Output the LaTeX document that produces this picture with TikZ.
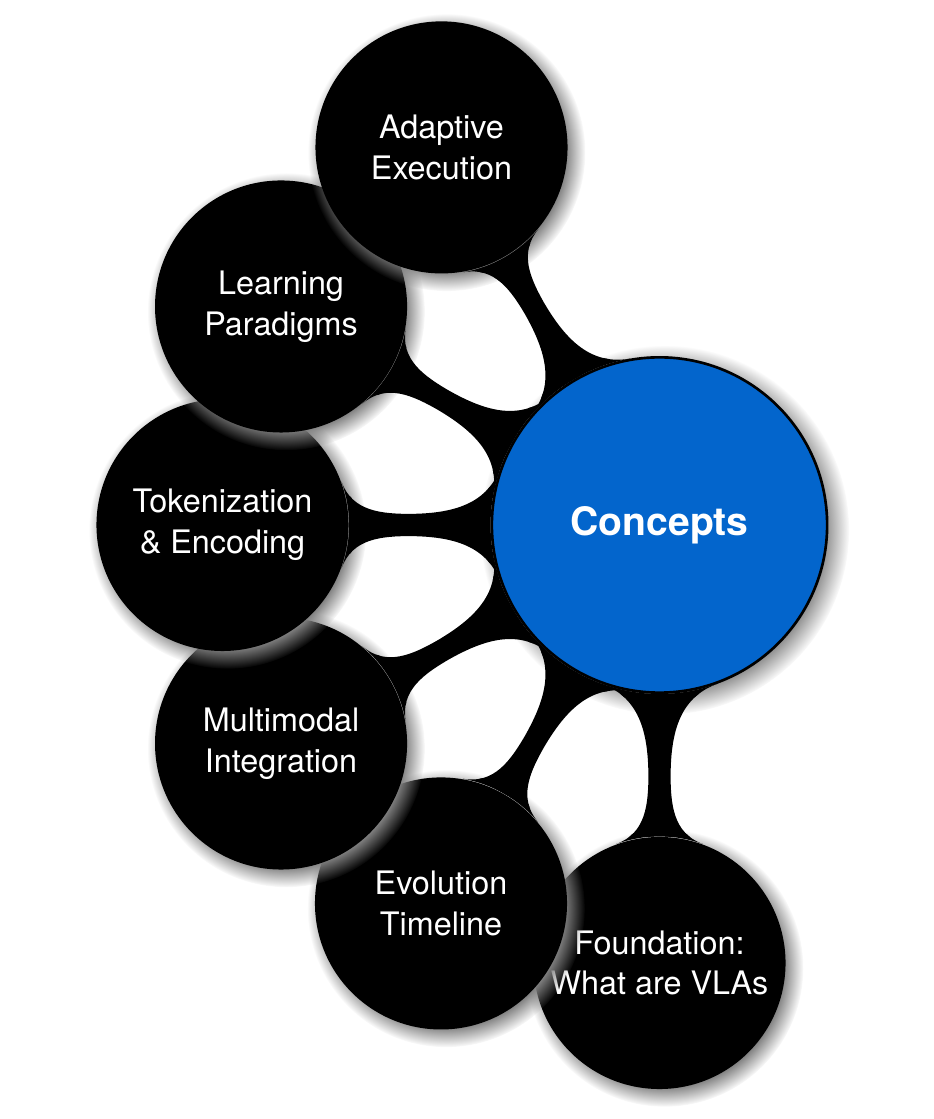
\documentclass[tikz,border=0pt]{standalone}
\usepackage{fontspec}
\setmainfont{TeX Gyre Heros}
\usetikzlibrary{mindmap,shadows}
\definecolor{rootblue}{RGB}{3,101,204}
\tikzset{
  rootnode/.style={circle, fill=rootblue, draw=black, line width=0.9pt, minimum size=114pt, inner sep=0pt, text=white, align=center, font=\fontsize{13.3}{16}\selectfont\bfseries, circular drop shadow},
  kid/.style={circle, fill=black, minimum size=85.7pt, inner sep=0pt, text=white, align=center, font=\fontsize{11}{13.9}\selectfont, circular drop shadow},
  conbar/.style={circle connection bar switch color=from (black) to (black)}
}
\begin{document}
\begin{tikzpicture}[x=0.34pt,y=0.34pt]
\useasboundingbox (-659.5,-594) rectangle (273.5,525);
\node[rootnode] (root) at (0,0) {Concepts};
\node[kid] (f) at (270:438) {Foundation:\\What are VLAs};
\node[kid] (e) at (240:437) {Evolution\\Timeline};
\node[kid] (m) at (210:437) {Multimodal\\Integration};
\node[kid] (t) at (180:437) {Tokenization\\\& Encoding};
\node[kid] (l) at (150:437) {Learning\\Paradigms};
\node[kid] (a) at (120:436) {Adaptive\\Execution};
\path (root) to[conbar] (f);
\path (root) to[conbar] (e);
\path (root) to[conbar] (m);
\path (root) to[conbar] (t);
\path (root) to[conbar] (l);
\path (root) to[conbar] (a);
\end{tikzpicture}
\end{document}
